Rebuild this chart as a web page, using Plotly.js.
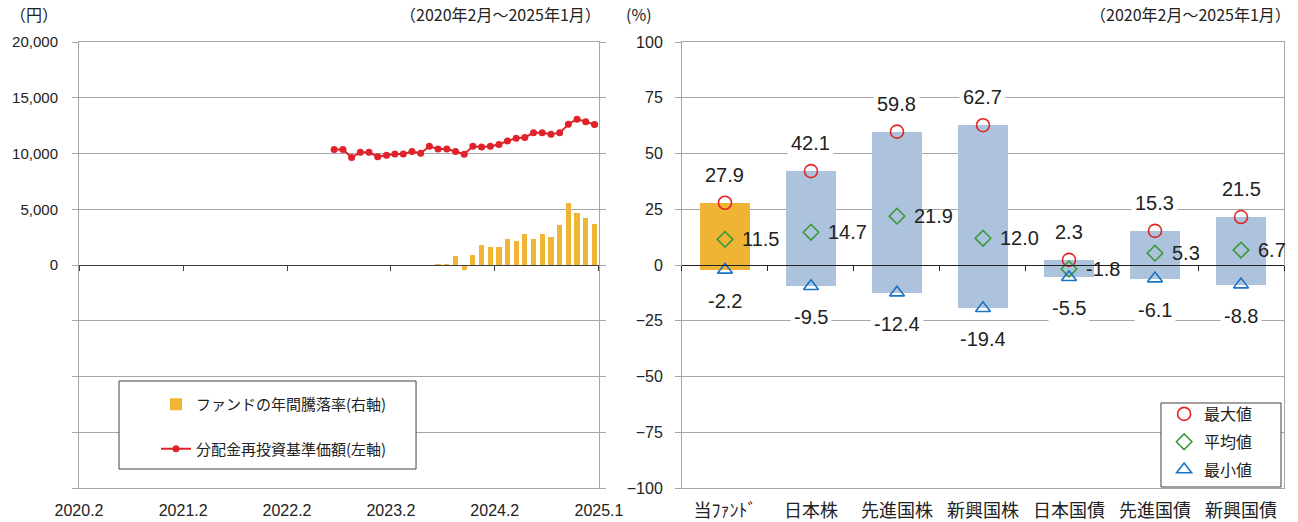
<!DOCTYPE html>
<html><head><meta charset="utf-8">
<script src="https://cdn.plot.ly/plotly-3.0.1.min.js"></script>
<style>html,body{margin:0;padding:0;background:#fff}#chart{width:1298px;height:522px}</style>
</head><body><div id="chart"></div>
<script>
// ---- Left panel data ----
const navMonths = ["2022-07","2022-08","2022-09","2022-10","2022-11","2022-12",
  "2023-01","2023-02","2023-03","2023-04","2023-05","2023-06","2023-07","2023-08","2023-09","2023-10","2023-11","2023-12",
  "2024-01","2024-02","2024-03","2024-04","2024-05","2024-06","2024-07","2024-08","2024-09","2024-10","2024-11","2024-12",
  "2025-01"];
const navValues = [10360,10360,9640,10120,10120,9700,
  9850,9960,9960,10180,10030,10650,10410,10410,10180,9940,10650,10590,
  10650,10810,11130,11370,11440,11850,11850,11730,11850,12630,13080,12840,
  12600];
const retMonths = ["2023-07","2023-08","2023-09","2023-10","2023-11","2023-12",
  "2024-01","2024-02","2024-03","2024-04","2024-05","2024-06","2024-07","2024-08","2024-09","2024-10","2024-11","2024-12",
  "2025-01"];
const retValues = [0.5,0.5,4.2,-2.2,4.5,9.1,8.2,8.2,11.7,10.9,13.8,11.7,14.0,12.4,17.9,27.9,23.2,21.2,18.2];
const xTickDates = ["2020-02-01","2021-02-01","2022-02-01","2023-02-01","2024-02-01","2025-02-01"];
const xTickLabels = ["2020.2","2021.2","2022.2","2023.2","2024.2","2025.1"];
const yLeftTicks = [-20000,-15000,-10000,-5000,0,5000,10000,15000,20000];
const yLeftLabels = ["","","","","0","5,000","10,000","15,000","20,000"];
const leftLegendNames = ["ファンドの年間騰落率(右軸)","分配金再投資基準価額(左軸)"];

// ---- Right panel data ----
const categories = ["当ﾌｧﾝﾄﾞ","日本株","先進国株","新興国株","日本国債","先進国債","新興国債"];
const maxValues = [27.9,42.1,59.8,62.7,2.3,15.3,21.5];
const avgValues = [11.5,14.7,21.9,12.0,-1.8,5.3,6.7];
const minValues = [-2.2,-9.5,-12.4,-19.4,-5.5,-6.1,-8.8];
const rightLegendNames = ["最大値","平均値","最小値"];
const yRightTicks = [-100,-75,-50,-25,0,25,50,75,100];

// ---- styles ----
const GRID = "#a6a6a6";
const ORANGE = "#F0B434";
const LIGHTBLUE = "#ADC3DD";
const RED = "#E0222A";
const FONT = "Liberation Sans, Noto Sans CJK JP, sans-serif";
const JFONT = "Noto Sans CJK JP, sans-serif";
const MONTH_MS = 30.44*24*3600*1000;

const traces = [
  {type:"bar", x:retMonths, y:retValues, xperiod:"M1", xperiodalignment:"middle",
   width:0.6*MONTH_MS, marker:{color:ORANGE}, xaxis:"x", yaxis:"y2",
   name:leftLegendNames[0], legend:"legend", legendgroup:"a", hoverinfo:"skip"},
  {type:"scatter", mode:"lines+markers", x:navMonths, y:navValues, xperiod:"M1", xperiodalignment:"middle",
   line:{color:RED, width:2}, marker:{color:RED, size:7}, xaxis:"x", yaxis:"y",
   name:leftLegendNames[1], legend:"legend", legendgroup:"b", hoverinfo:"skip"},
  {type:"scatter", x:[], y:[], xaxis:"x2", yaxis:"y", showlegend:false},
  // right panel
  {type:"bar", x:categories, y:maxValues.map((v,i)=>v-minValues[i]), base:minValues, width:0.59,
   marker:{color:categories.map((c,i)=> i===0 ? ORANGE : LIGHTBLUE)}, xaxis:"x3", yaxis:"y3",
   showlegend:false, hoverinfo:"skip"},
  {type:"scatter", mode:"markers", x:categories, y:maxValues, xaxis:"x3", yaxis:"y3",
   marker:{symbol:"circle-open", size:13, color:"#E02424", line:{width:1.6}},
   name:rightLegendNames[0], legend:"legend2", legendgroup:"m1", hoverinfo:"skip"},
  {type:"scatter", mode:"markers", x:categories, y:avgValues, xaxis:"x3", yaxis:"y3",
   marker:{symbol:"diamond-open", size:12, color:"#3A9A3A", line:{width:1.6}},
   name:rightLegendNames[1], legend:"legend2", legendgroup:"m2", hoverinfo:"skip"},
  {type:"scatter", mode:"markers", x:categories, y:minValues, xaxis:"x3", yaxis:"y3",
   marker:{symbol:"triangle-up-open", size:13, color:"#1A73C4", line:{width:1.6}},
   name:rightLegendNames[2], legend:"legend2", legendgroup:"m3", hoverinfo:"skip"},
  {type:"scatter", x:[], y:[], xaxis:"x4", yaxis:"y3", showlegend:false}
];

const annotations = [];
const lblFont = {family:FONT, size:20, color:"#222"};
categories.forEach((c,i)=>{
  annotations.push({xref:"x3", yref:"y3", x:c, y:maxValues[i], text:maxValues[i].toFixed(1),
    showarrow:false, yshift:28, bgcolor:"#fff", borderpad:3, font:lblFont});
  annotations.push({xref:"x3", yref:"y3", x:c, y:minValues[i], text:minValues[i].toFixed(1),
    showarrow:false, yshift:-31, bgcolor:"#fff", borderpad:3, font:lblFont});
  annotations.push({xref:"x3", yref:"y3", x:c, y:avgValues[i], text:avgValues[i].toFixed(1),
    showarrow:false, xanchor:"left", xshift:15, font:lblFont});
});
const hdr = {family:JFONT, size:16, color:"#222"};
annotations.push({xref:"paper", yref:"paper", x:-0.059, y:1.063, xanchor:"left", yanchor:"middle", text:"（円）", showarrow:false, font:hdr});
annotations.push({xref:"paper", yref:"paper", x:0.435, y:1.063, xanchor:"right", yanchor:"middle", text:"（2020年2月～2025年1月）", showarrow:false, font:hdr});
annotations.push({xref:"paper", yref:"paper", x:0.452, y:1.063, xanchor:"left", yanchor:"middle", text:"(%)", showarrow:false, font:hdr});
annotations.push({xref:"paper", yref:"paper", x:1.0075, y:1.063, xanchor:"right", yanchor:"middle", text:"（2020年2月～2025年1月）", showarrow:false, font:hdr});

const LD = [0, 0.4315];
const RD = [0.5004, 1];
const layout = {
  width:1298, height:522,
  margin:{l:79, r:14, t:42, b:34},
  paper_bgcolor:"#fff", plot_bgcolor:"#fff",
  font:{family:FONT, size:15, color:"#222"},
  showlegend:true,
  xaxis:{domain:LD, anchor:"y", type:"date", range:["2020-02-01","2025-02-01"],
    tickmode:"array", tickvals:xTickDates, ticktext:xTickLabels, showgrid:false,
    showline:true, linecolor:GRID, linewidth:1, mirror:true, ticks:"", zeroline:false,
    tickfont:{family:FONT, size:16}, ticklabelstandoff:8},
  xaxis2:{overlaying:"x", anchor:"free", position:0.5, type:"date", range:["2020-02-01","2025-02-01"],
    tickmode:"array", tickvals:xTickDates, showticklabels:false, showgrid:false,
    showline:true, linecolor:"#404040", linewidth:1.3, ticks:"outside", ticklen:5, tickcolor:"#404040", zeroline:false},
  yaxis:{domain:[0,1], anchor:"x", range:[-20000,20000], tickmode:"array", tickvals:yLeftTicks, ticktext:yLeftLabels,
    showgrid:true, gridcolor:GRID, gridwidth:1, zeroline:false,
    showline:true, linecolor:GRID, linewidth:1, ticks:"outside", ticklen:6, tickcolor:GRID,
    tickfont:{family:FONT, size:15}, ticklabelstandoff:11},
  yaxis2:{overlaying:"y", side:"right", anchor:"x", range:[-100,100], tickmode:"array", tickvals:yRightTicks,
    showticklabels:false, showgrid:false, zeroline:false,
    showline:true, linecolor:GRID, linewidth:1, ticks:"outside", ticklen:6, tickcolor:GRID},
  xaxis3:{domain:RD, anchor:"y3", type:"category", categoryorder:"array", categoryarray:categories,
    range:[-0.5,6.5], showgrid:false, showline:true, linecolor:GRID, linewidth:1, mirror:true, ticks:"",
    tickfont:{family:JFONT, size:18}, ticklabelstandoff:6},
  xaxis4:{overlaying:"x3", anchor:"free", position:0.5, range:[-0.5,6.5], tickmode:"array",
    tickvals:[-0.5,0.5,1.5,2.5,3.5,4.5,5.5,6.5], showticklabels:false, showgrid:false,
    showline:true, linecolor:"#222", linewidth:1.3, ticks:"outside", ticklen:5, tickcolor:"#222", zeroline:false},
  yaxis3:{domain:[0,1], anchor:"x3", range:[-100,100], tickmode:"array", tickvals:yRightTicks,
    showgrid:true, gridcolor:GRID, gridwidth:1, zeroline:false,
    showline:true, linecolor:GRID, linewidth:1, mirror:true, ticks:"outside", ticklen:6, tickcolor:GRID,
    tickfont:{family:FONT, size:16}, ticklabelstandoff:9},
  legend:{x:0.0639, y:0.2242, xanchor:"left", yanchor:"top", bgcolor:"rgba(0,0,0,0)", borderwidth:0,
    font:{family:JFONT, size:15, color:"#222"}, tracegroupgap:22, traceorder:"grouped"},
  legend2:{x:0.9005, y:0.204, xanchor:"left", yanchor:"top", bgcolor:"rgba(0,0,0,0)", borderwidth:0,
    font:{family:JFONT, size:16, color:"#222"}, tracegroupgap:4, traceorder:"grouped"},
  shapes:[
    {type:"rect", xref:"paper", yref:"paper", x0:0.0332, x1:0.2797, y0:0.0426, y1:0.2399,
     line:{color:"#404040", width:1}, fillcolor:"#fff", layer:"above"},
    {type:"rect", xref:"paper", yref:"paper", x0:0.8979, x1:0.9975, y0:0.0022, y1:0.1906,
     line:{color:"#404040", width:1}, fillcolor:"#fff", layer:"above"}
  ],
  annotations:annotations,
  bargap:0
};

Plotly.newPlot("chart", traces, layout, {displayModeBar:false, staticPlot:true});
</script></body></html>
